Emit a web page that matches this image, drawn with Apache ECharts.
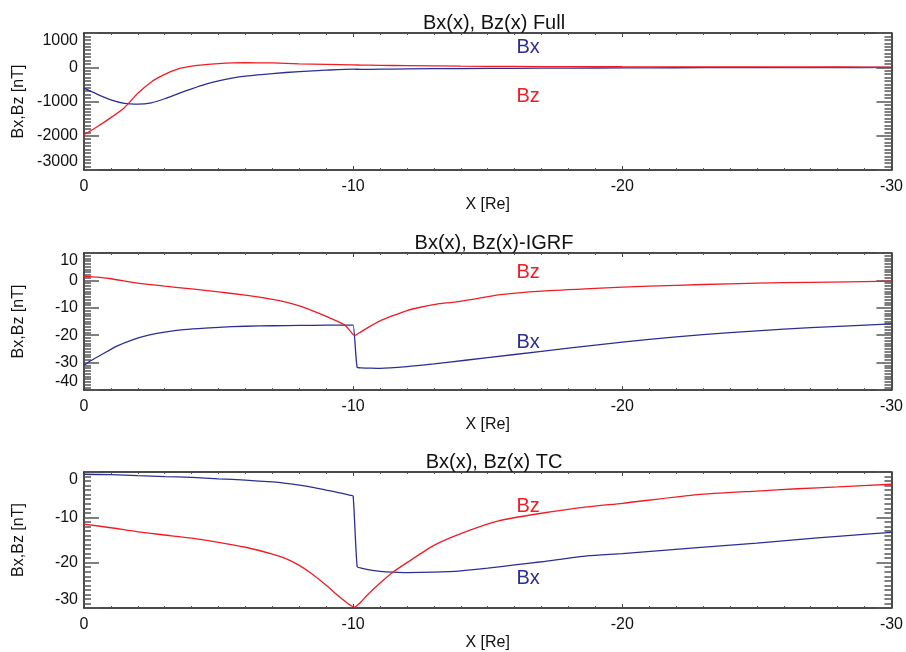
<!DOCTYPE html>
<html>
<head>
<meta charset="utf-8">
<script src="https://cdn.jsdelivr.net/npm/echarts@6/dist/echarts.min.js"></script>
<style>
html,body{margin:0;padding:0;background:#fff;}
#chart{width:906px;height:652px;}
</style>
</head>
<body>
<div id="chart"></div>
<script>
// ---------- Data ----------
const panelTitles = ['Bx(x), Bz(x) Full', 'Bx(x), Bz(x)-IGRF', 'Bx(x), Bz(x) TC'];
const xTickValues = [0, -10, -20, -30];

// Panel 1: Full
const fullX  = [0, -0.5, -1, -1.5, -2, -2.5, -3, -3.5, -4, -4.5, -5, -5.5, -6, -7, -8, -9, -10, -10.3, -11, -12, -14, -16, -18, -20, -22, -24, -26, -28, -30];
const fullBx = [-610, -790, -950, -1055, -1078, -1040, -920, -770, -630, -500, -400, -320, -262, -185, -125, -85, -55, -62, -56, -48, -38, -30, -24, -19, -15, -12, -10, -8, -6];
const fullBz = [-1970, -1730, -1470, -1180, -760, -430, -210, -50, 30, 75, 105, 125, 132, 125, 100, 82, 67, 64, 56, 46, 32, 24, 18, 14, 12, 10, 8, 7, 6];

// Panel 2: minus IGRF
const igrfBxX = [0, -0.25, -0.6, -1.2, -1.8, -2.4, -3, -3.7, -4.5, -5.5, -6.5, -7.5, -8.5, -9.5, -9.9, -10.0, -10.15, -10.3, -10.6, -11, -12, -13, -13.5, -15, -17, -19, -21, -23, -25, -27, -30];
const igrfBx  = [-31, -29.3, -27.4, -24.1, -21.7, -20, -18.9, -18, -17.4, -16.9, -16.6, -16.5, -16.4, -16.3, -16.3, -16.3, -31.7, -31.9, -32, -32.1, -31.5, -30.5, -29.9, -28.2, -25.9, -23.6, -21.5, -19.8, -18.4, -17.2, -15.9];
const igrfBzX = [0, -0.5, -1, -2, -3, -4, -5, -6, -7, -7.5, -8, -8.5, -9, -9.5, -9.7, -9.9, -10.05, -10.2, -10.5, -11, -11.5, -12, -12.5, -13.2, -13.7, -14.5, -15.4, -17, -19, -21, -23, -25, -27, -30];
const igrfBz  = [1.5, 1.2, 0.6, -1.0, -2.1, -3.1, -4.2, -5.4, -6.9, -7.9, -9.3, -11.1, -13.1, -15.3, -16.4, -18.6, -20.1, -19.3, -17.5, -14.8, -12.8, -11, -9.8, -8.5, -8.0, -6.8, -5.3, -3.9, -2.9, -2.1, -1.5, -1.0, -0.7, -0.3];

// Panel 3: TC
const tcBxX = [0, -1, -2, -3, -4, -5, -6, -7, -7.5, -8, -8.5, -9, -9.5, -9.9, -10, -10.15, -10.3, -10.6, -11, -11.5, -12, -13, -14, -15, -16, -17, -18.7, -20, -22.8, -25, -26.5, -28, -30];
const tcBx  = [-0.5, -0.6, -0.8, -1.0, -1.2, -1.5, -1.8, -2.2, -2.5, -2.9, -3.4, -4.0, -4.6, -5.15, -5.3, -20.9, -21.2, -21.6, -21.9, -22.1, -22.2, -22.1, -21.8, -21.2, -20.5, -19.8, -18.5, -18.0, -16.7, -15.7, -14.9, -14.2, -13.3];
const tcBzX = [0, -1, -2, -3, -4, -5, -6, -7, -7.5, -8, -8.5, -9, -9.5, -9.8, -10.05, -10.3, -10.5, -11, -11.5, -12, -13, -14, -15.4, -17, -18.7, -20, -22.8, -25, -26.5, -28, -30];
const tcBz  = [-11.5, -12.3, -13.2, -13.9, -14.6, -15.5, -16.6, -18.1, -19.1, -20.6, -22.6, -25.0, -27.6, -29.0, -29.8, -28.6, -27.3, -24.5, -22.0, -20.0, -16.2, -13.6, -10.8, -9.1, -7.7, -6.9, -5.0, -4.2, -3.7, -3.3, -2.7];

const yRanges = [[-3000, 1000, 1000], [-40, 10, 10], [-30, 0, 10]];
// text annotation anchors in data coordinates [X, value]
const bxLabelAt = [[-16.5, 580], [-16.5, -22.8], [-16.5, -23.5]];
const bzLabelAt = [[-16.5, -850], [-16.5, 2.9], [-16.5, -7.5]];

// ---------- Chart ----------
const RED = '#f01c24';
const BLUE = '#2b2f94';
const FONT = 'Liberation Sans, Arial, Helvetica, sans-serif';
const zip = (xs, ys) => xs.map((x, i) => [x, ys[i]]);

const gridTops = [33, 253, 472];
const grids = gridTops.map(t => ({ left: 84, right: 12, top: t, height: 137 }));

const xAxes = [], yAxes = [], series = [], titles = [];
const seriesData = [
  [zip(fullX, fullBx), zip(fullX, fullBz)],
  [zip(igrfBxX, igrfBx), zip(igrfBzX, igrfBz)],
  [zip(tcBxX, tcBx), zip(tcBzX, tcBz)]
];

for (let i = 0; i < 3; i++) {
  titles.push({
    text: panelTitles[i], left: 489, top: gridTops[i] - 25, textAlign: 'center',
    textStyle: { fontFamily: FONT, fontSize: 20, fontWeight: 'normal', color: '#111' }
  });
  const xCommon = {
    type: 'value', gridIndex: i, min: -30, max: 0, interval: 10, inverse: true,
    axisLine: { onZero: false, lineStyle: { color: '#111', width: 1.5 } },
    axisTick: { inside: true, length: 4, lineStyle: { color: '#444', width: 1 } },
    minorTick: { show: true, splitNumber: 10, length: 2, lineStyle: { color: '#555', width: 1 } },
    splitLine: { show: false }, minorSplitLine: { show: false }
  };
  xAxes.push(Object.assign({}, xCommon, {
    position: 'bottom', name: 'X [Re]', nameLocation: 'middle', nameGap: 27,
    nameTextStyle: { fontFamily: FONT, fontSize: 16, color: '#111' },
    axisLabel: { show: true, margin: 9, fontFamily: FONT, fontSize: 16, color: '#111',
      formatter: v => String(v) }
  }));
  xAxes.push(Object.assign({}, xCommon, { position: 'top', axisLabel: { show: false } }));

  const [ymin, ymax, yint] = yRanges[i];
  const yCommon = {
    type: 'value', gridIndex: i, min: ymin, max: ymax, interval: yint,
    axisLine: { onZero: false, lineStyle: { color: '#111', width: 1.5 } },
    axisTick: { inside: true, length: 15, lineStyle: { color: '#555', width: 1.5 } },
    minorTick: { show: true, splitNumber: 10, length: 7, lineStyle: { color: '#555', width: 1.5 } },
    splitLine: { show: false }, minorSplitLine: { show: false }
  };
  yAxes.push(Object.assign({}, yCommon, {
    position: 'left', name: 'Bx,Bz [nT]', nameLocation: 'middle', nameGap: 57,
    nameMoveOverlap: false,
    nameTextStyle: { fontFamily: FONT, fontSize: 16, color: '#111' },
    axisLabel: { show: true, margin: 6, fontFamily: FONT, fontSize: 16, color: '#111',
      formatter: v => String(v),
      verticalAlignMaxLabel: 'top', verticalAlignMinLabel: 'bottom' }
  }));
  yAxes.push(Object.assign({}, yCommon, { position: 'right', axisLabel: { show: false } }));

  const lineBase = {
    type: 'line', xAxisIndex: 2 * i, yAxisIndex: 2 * i, showSymbol: false, symbol: 'none',
    smooth: 0.2, animation: false, z: 3
  };
  series.push(Object.assign({}, lineBase, { name: 'Bx' + i, data: seriesData[i][0], lineStyle: { color: BLUE, width: 1.3 } }));
  series.push(Object.assign({}, lineBase, { name: 'Bz' + i, data: seriesData[i][1], lineStyle: { color: RED, width: 1.3 } }));

  const labelSeries = (txt, at, color) => ({
    type: 'scatter', xAxisIndex: 2 * i, yAxisIndex: 2 * i, animation: false, silent: true,
    symbolSize: 1, itemStyle: { color: 'rgba(0,0,0,0)', opacity: 1 },
    label: { show: true, position: 'inside', formatter: txt, fontFamily: FONT, fontSize: 20,
      color: color, opacity: 1, textBorderWidth: 0 },
    data: [at]
  });
  series.push(labelSeries('Bx', bxLabelAt[i], BLUE));
  series.push(labelSeries('Bz', bzLabelAt[i], RED));
}

const chart = echarts.init(document.getElementById('chart'), null, { renderer: 'canvas' });
chart.setOption({
  animation: false,
  backgroundColor: '#fff',
  title: titles,
  grid: grids,
  xAxis: xAxes,
  yAxis: yAxes,
  series: series
});
</script>
</body>
</html>
